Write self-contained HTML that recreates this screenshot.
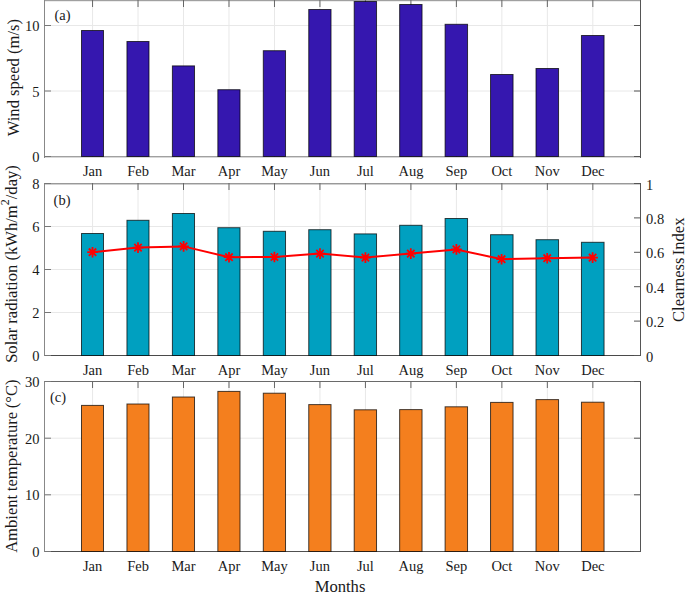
<!DOCTYPE html>
<html><head><meta charset="utf-8"><style>
html,body{margin:0;padding:0;background:#fff;overflow:hidden;width:685px;height:593px;}
svg{display:block;}
text{font-family:"Liberation Serif",serif;fill:#1a1a1a;}
.t{font-size:14.5px;}
.l{font-size:16.6px;}
</style></head><body>
<svg width="685" height="593" viewBox="0 0 685 593">

<line x1="44.5" y1="91" x2="640.5" y2="91" stroke="#e8e8e8" stroke-width="1"/>
<line x1="44.5" y1="25.5" x2="640.5" y2="25.5" stroke="#e8e8e8" stroke-width="1"/>
<line x1="92.55" y1="0.5" x2="92.55" y2="156.5" stroke="#e8e8e8" stroke-width="1"/>
<line x1="138.03" y1="0.5" x2="138.03" y2="156.5" stroke="#e8e8e8" stroke-width="1"/>
<line x1="183.51" y1="0.5" x2="183.51" y2="156.5" stroke="#e8e8e8" stroke-width="1"/>
<line x1="228.99" y1="0.5" x2="228.99" y2="156.5" stroke="#e8e8e8" stroke-width="1"/>
<line x1="274.47" y1="0.5" x2="274.47" y2="156.5" stroke="#e8e8e8" stroke-width="1"/>
<line x1="319.95" y1="0.5" x2="319.95" y2="156.5" stroke="#e8e8e8" stroke-width="1"/>
<line x1="365.43" y1="0.5" x2="365.43" y2="156.5" stroke="#e8e8e8" stroke-width="1"/>
<line x1="410.91" y1="0.5" x2="410.91" y2="156.5" stroke="#e8e8e8" stroke-width="1"/>
<line x1="456.39" y1="0.5" x2="456.39" y2="156.5" stroke="#e8e8e8" stroke-width="1"/>
<line x1="501.87" y1="0.5" x2="501.87" y2="156.5" stroke="#e8e8e8" stroke-width="1"/>
<line x1="547.35" y1="0.5" x2="547.35" y2="156.5" stroke="#e8e8e8" stroke-width="1"/>
<line x1="592.83" y1="0.5" x2="592.83" y2="156.5" stroke="#e8e8e8" stroke-width="1"/>
<rect x="44" y="0" width="597" height="1" fill="#a0a0a0"/>
<rect x="44" y="1" width="597" height="1" fill="#ececec"/>
<rect x="44" y="156" width="597" height="1" fill="#a0a0a0"/>
<rect x="44" y="157" width="597" height="1" fill="#d8d8d8"/>
<rect x="44" y="0" width="1" height="158" fill="#888888"/>
<rect x="640" y="0" width="1" height="158" fill="#555555"/>
<line x1="92.55" y1="0.0" x2="92.55" y2="7.0" stroke="#666" stroke-width="1"/>
<line x1="92.55" y1="156.5" x2="92.55" y2="150.0" stroke="#666" stroke-width="1"/>
<line x1="138.03" y1="0.0" x2="138.03" y2="7.0" stroke="#666" stroke-width="1"/>
<line x1="138.03" y1="156.5" x2="138.03" y2="150.0" stroke="#666" stroke-width="1"/>
<line x1="183.51" y1="0.0" x2="183.51" y2="7.0" stroke="#666" stroke-width="1"/>
<line x1="183.51" y1="156.5" x2="183.51" y2="150.0" stroke="#666" stroke-width="1"/>
<line x1="228.99" y1="0.0" x2="228.99" y2="7.0" stroke="#666" stroke-width="1"/>
<line x1="228.99" y1="156.5" x2="228.99" y2="150.0" stroke="#666" stroke-width="1"/>
<line x1="274.47" y1="0.0" x2="274.47" y2="7.0" stroke="#666" stroke-width="1"/>
<line x1="274.47" y1="156.5" x2="274.47" y2="150.0" stroke="#666" stroke-width="1"/>
<line x1="319.95" y1="0.0" x2="319.95" y2="7.0" stroke="#666" stroke-width="1"/>
<line x1="319.95" y1="156.5" x2="319.95" y2="150.0" stroke="#666" stroke-width="1"/>
<line x1="365.43" y1="0.0" x2="365.43" y2="7.0" stroke="#666" stroke-width="1"/>
<line x1="365.43" y1="156.5" x2="365.43" y2="150.0" stroke="#666" stroke-width="1"/>
<line x1="410.91" y1="0.0" x2="410.91" y2="7.0" stroke="#666" stroke-width="1"/>
<line x1="410.91" y1="156.5" x2="410.91" y2="150.0" stroke="#666" stroke-width="1"/>
<line x1="456.39" y1="0.0" x2="456.39" y2="7.0" stroke="#666" stroke-width="1"/>
<line x1="456.39" y1="156.5" x2="456.39" y2="150.0" stroke="#666" stroke-width="1"/>
<line x1="501.87" y1="0.0" x2="501.87" y2="7.0" stroke="#666" stroke-width="1"/>
<line x1="501.87" y1="156.5" x2="501.87" y2="150.0" stroke="#666" stroke-width="1"/>
<line x1="547.35" y1="0.0" x2="547.35" y2="7.0" stroke="#666" stroke-width="1"/>
<line x1="547.35" y1="156.5" x2="547.35" y2="150.0" stroke="#666" stroke-width="1"/>
<line x1="592.83" y1="0.0" x2="592.83" y2="7.0" stroke="#666" stroke-width="1"/>
<line x1="592.83" y1="156.5" x2="592.83" y2="150.0" stroke="#666" stroke-width="1"/>
<rect x="81.50" y="30.50" width="22.00" height="126.00" fill="#3517AF" stroke="rgba(0,0,0,0.72)" stroke-width="1"/>
<rect x="126.95" y="41.50" width="22.05" height="115.00" fill="#3517AF" stroke="rgba(0,0,0,0.72)" stroke-width="1"/>
<rect x="172.40" y="65.90" width="22.11" height="90.60" fill="#3517AF" stroke="rgba(0,0,0,0.72)" stroke-width="1"/>
<rect x="217.85" y="89.70" width="22.16" height="66.80" fill="#3517AF" stroke="rgba(0,0,0,0.72)" stroke-width="1"/>
<rect x="263.30" y="50.70" width="22.22" height="105.80" fill="#3517AF" stroke="rgba(0,0,0,0.72)" stroke-width="1"/>
<rect x="308.75" y="9.50" width="22.27" height="147.00" fill="#3517AF" stroke="rgba(0,0,0,0.72)" stroke-width="1"/>
<rect x="354.20" y="1.50" width="22.33" height="155.00" fill="#3517AF" stroke="rgba(0,0,0,0.72)" stroke-width="1"/>
<rect x="399.65" y="4.50" width="22.39" height="152.00" fill="#3517AF" stroke="rgba(0,0,0,0.72)" stroke-width="1"/>
<rect x="445.10" y="24.30" width="22.44" height="132.20" fill="#3517AF" stroke="rgba(0,0,0,0.72)" stroke-width="1"/>
<rect x="490.55" y="74.50" width="22.50" height="82.00" fill="#3517AF" stroke="rgba(0,0,0,0.72)" stroke-width="1"/>
<rect x="536.00" y="68.50" width="22.55" height="88.00" fill="#3517AF" stroke="rgba(0,0,0,0.72)" stroke-width="1"/>
<rect x="581.45" y="35.50" width="22.61" height="121.00" fill="#3517AF" stroke="rgba(0,0,0,0.72)" stroke-width="1"/>
<line x1="44.5" y1="156.5" x2="51.0" y2="156.5" stroke="#777" stroke-width="1"/>
<text class="t" x="39.5" y="162.0" text-anchor="end">0</text>
<line x1="634.0" y1="156.5" x2="640.5" y2="156.5" stroke="#555" stroke-width="1"/>
<line x1="44.5" y1="91" x2="51.0" y2="91" stroke="#777" stroke-width="1"/>
<text class="t" x="39.5" y="96.5" text-anchor="end">5</text>
<line x1="634.0" y1="91" x2="640.5" y2="91" stroke="#555" stroke-width="1"/>
<line x1="44.5" y1="25.5" x2="51.0" y2="25.5" stroke="#777" stroke-width="1"/>
<text class="t" x="39.5" y="31.0" text-anchor="end">10</text>
<line x1="634.0" y1="25.5" x2="640.5" y2="25.5" stroke="#555" stroke-width="1"/>
<text class="t" x="92.55" y="175.8" text-anchor="middle">Jan</text>
<text class="t" x="138.03" y="175.8" text-anchor="middle">Feb</text>
<text class="t" x="183.51" y="175.8" text-anchor="middle">Mar</text>
<text class="t" x="228.99" y="175.8" text-anchor="middle">Apr</text>
<text class="t" x="274.47" y="175.8" text-anchor="middle">May</text>
<text class="t" x="319.95" y="175.8" text-anchor="middle">Jun</text>
<text class="t" x="365.43" y="175.8" text-anchor="middle">Jul</text>
<text class="t" x="410.91" y="175.8" text-anchor="middle">Aug</text>
<text class="t" x="456.39" y="175.8" text-anchor="middle">Sep</text>
<text class="t" x="501.87" y="175.8" text-anchor="middle">Oct</text>
<text class="t" x="547.35" y="175.8" text-anchor="middle">Nov</text>
<text class="t" x="592.83" y="175.8" text-anchor="middle">Dec</text>
<line x1="44.5" y1="312.5" x2="640.5" y2="312.5" stroke="#e8e8e8" stroke-width="1"/>
<line x1="44.5" y1="269.5" x2="640.5" y2="269.5" stroke="#e8e8e8" stroke-width="1"/>
<line x1="44.5" y1="226.5" x2="640.5" y2="226.5" stroke="#e8e8e8" stroke-width="1"/>
<line x1="92.55" y1="183.5" x2="92.55" y2="355.5" stroke="#e8e8e8" stroke-width="1"/>
<line x1="138.03" y1="183.5" x2="138.03" y2="355.5" stroke="#e8e8e8" stroke-width="1"/>
<line x1="183.51" y1="183.5" x2="183.51" y2="355.5" stroke="#e8e8e8" stroke-width="1"/>
<line x1="228.99" y1="183.5" x2="228.99" y2="355.5" stroke="#e8e8e8" stroke-width="1"/>
<line x1="274.47" y1="183.5" x2="274.47" y2="355.5" stroke="#e8e8e8" stroke-width="1"/>
<line x1="319.95" y1="183.5" x2="319.95" y2="355.5" stroke="#e8e8e8" stroke-width="1"/>
<line x1="365.43" y1="183.5" x2="365.43" y2="355.5" stroke="#e8e8e8" stroke-width="1"/>
<line x1="410.91" y1="183.5" x2="410.91" y2="355.5" stroke="#e8e8e8" stroke-width="1"/>
<line x1="456.39" y1="183.5" x2="456.39" y2="355.5" stroke="#e8e8e8" stroke-width="1"/>
<line x1="501.87" y1="183.5" x2="501.87" y2="355.5" stroke="#e8e8e8" stroke-width="1"/>
<line x1="547.35" y1="183.5" x2="547.35" y2="355.5" stroke="#e8e8e8" stroke-width="1"/>
<line x1="592.83" y1="183.5" x2="592.83" y2="355.5" stroke="#e8e8e8" stroke-width="1"/>
<rect x="44" y="183" width="597" height="1" fill="#999999"/>
<rect x="45" y="184" width="595" height="1" fill="#d0d0d0"/>
<rect x="44" y="355" width="597" height="1" fill="#4a4a4a"/>
<rect x="44" y="183" width="1" height="173" fill="#888888"/>
<rect x="640" y="183" width="1" height="173" fill="#555555"/>
<line x1="92.55" y1="183.0" x2="92.55" y2="190.0" stroke="#666" stroke-width="1"/>
<line x1="92.55" y1="355.5" x2="92.55" y2="349.0" stroke="#666" stroke-width="1"/>
<line x1="138.03" y1="183.0" x2="138.03" y2="190.0" stroke="#666" stroke-width="1"/>
<line x1="138.03" y1="355.5" x2="138.03" y2="349.0" stroke="#666" stroke-width="1"/>
<line x1="183.51" y1="183.0" x2="183.51" y2="190.0" stroke="#666" stroke-width="1"/>
<line x1="183.51" y1="355.5" x2="183.51" y2="349.0" stroke="#666" stroke-width="1"/>
<line x1="228.99" y1="183.0" x2="228.99" y2="190.0" stroke="#666" stroke-width="1"/>
<line x1="228.99" y1="355.5" x2="228.99" y2="349.0" stroke="#666" stroke-width="1"/>
<line x1="274.47" y1="183.0" x2="274.47" y2="190.0" stroke="#666" stroke-width="1"/>
<line x1="274.47" y1="355.5" x2="274.47" y2="349.0" stroke="#666" stroke-width="1"/>
<line x1="319.95" y1="183.0" x2="319.95" y2="190.0" stroke="#666" stroke-width="1"/>
<line x1="319.95" y1="355.5" x2="319.95" y2="349.0" stroke="#666" stroke-width="1"/>
<line x1="365.43" y1="183.0" x2="365.43" y2="190.0" stroke="#666" stroke-width="1"/>
<line x1="365.43" y1="355.5" x2="365.43" y2="349.0" stroke="#666" stroke-width="1"/>
<line x1="410.91" y1="183.0" x2="410.91" y2="190.0" stroke="#666" stroke-width="1"/>
<line x1="410.91" y1="355.5" x2="410.91" y2="349.0" stroke="#666" stroke-width="1"/>
<line x1="456.39" y1="183.0" x2="456.39" y2="190.0" stroke="#666" stroke-width="1"/>
<line x1="456.39" y1="355.5" x2="456.39" y2="349.0" stroke="#666" stroke-width="1"/>
<line x1="501.87" y1="183.0" x2="501.87" y2="190.0" stroke="#666" stroke-width="1"/>
<line x1="501.87" y1="355.5" x2="501.87" y2="349.0" stroke="#666" stroke-width="1"/>
<line x1="547.35" y1="183.0" x2="547.35" y2="190.0" stroke="#666" stroke-width="1"/>
<line x1="547.35" y1="355.5" x2="547.35" y2="349.0" stroke="#666" stroke-width="1"/>
<line x1="592.83" y1="183.0" x2="592.83" y2="190.0" stroke="#666" stroke-width="1"/>
<line x1="592.83" y1="355.5" x2="592.83" y2="349.0" stroke="#666" stroke-width="1"/>
<rect x="81.50" y="233.50" width="22.00" height="122.00" fill="#00A0C0" stroke="rgba(0,0,0,0.72)" stroke-width="1"/>
<rect x="126.95" y="220.30" width="22.05" height="135.20" fill="#00A0C0" stroke="rgba(0,0,0,0.72)" stroke-width="1"/>
<rect x="172.40" y="213.50" width="22.11" height="142.00" fill="#00A0C0" stroke="rgba(0,0,0,0.72)" stroke-width="1"/>
<rect x="217.85" y="227.70" width="22.16" height="127.80" fill="#00A0C0" stroke="rgba(0,0,0,0.72)" stroke-width="1"/>
<rect x="263.30" y="231.30" width="22.22" height="124.20" fill="#00A0C0" stroke="rgba(0,0,0,0.72)" stroke-width="1"/>
<rect x="308.75" y="229.70" width="22.27" height="125.80" fill="#00A0C0" stroke="rgba(0,0,0,0.72)" stroke-width="1"/>
<rect x="354.20" y="233.90" width="22.33" height="121.60" fill="#00A0C0" stroke="rgba(0,0,0,0.72)" stroke-width="1"/>
<rect x="399.65" y="225.30" width="22.39" height="130.20" fill="#00A0C0" stroke="rgba(0,0,0,0.72)" stroke-width="1"/>
<rect x="445.10" y="218.50" width="22.44" height="137.00" fill="#00A0C0" stroke="rgba(0,0,0,0.72)" stroke-width="1"/>
<rect x="490.55" y="234.70" width="22.50" height="120.80" fill="#00A0C0" stroke="rgba(0,0,0,0.72)" stroke-width="1"/>
<rect x="536.00" y="239.70" width="22.55" height="115.80" fill="#00A0C0" stroke="rgba(0,0,0,0.72)" stroke-width="1"/>
<rect x="581.45" y="242.30" width="22.61" height="113.20" fill="#00A0C0" stroke="rgba(0,0,0,0.72)" stroke-width="1"/>
<line x1="44.5" y1="355.5" x2="51.0" y2="355.5" stroke="#777" stroke-width="1"/>
<text class="t" x="39.5" y="361.0" text-anchor="end">0</text>
<line x1="44.5" y1="312.5" x2="51.0" y2="312.5" stroke="#777" stroke-width="1"/>
<text class="t" x="39.5" y="318.0" text-anchor="end">2</text>
<line x1="44.5" y1="269.5" x2="51.0" y2="269.5" stroke="#777" stroke-width="1"/>
<text class="t" x="39.5" y="275.0" text-anchor="end">4</text>
<line x1="44.5" y1="226.5" x2="51.0" y2="226.5" stroke="#777" stroke-width="1"/>
<text class="t" x="39.5" y="232.0" text-anchor="end">6</text>
<line x1="44.5" y1="183.5" x2="51.0" y2="183.5" stroke="#777" stroke-width="1"/>
<text class="t" x="39.5" y="189.0" text-anchor="end">8</text>
<text class="t" x="92.55" y="374.8" text-anchor="middle">Jan</text>
<text class="t" x="138.03" y="374.8" text-anchor="middle">Feb</text>
<text class="t" x="183.51" y="374.8" text-anchor="middle">Mar</text>
<text class="t" x="228.99" y="374.8" text-anchor="middle">Apr</text>
<text class="t" x="274.47" y="374.8" text-anchor="middle">May</text>
<text class="t" x="319.95" y="374.8" text-anchor="middle">Jun</text>
<text class="t" x="365.43" y="374.8" text-anchor="middle">Jul</text>
<text class="t" x="410.91" y="374.8" text-anchor="middle">Aug</text>
<text class="t" x="456.39" y="374.8" text-anchor="middle">Sep</text>
<text class="t" x="501.87" y="374.8" text-anchor="middle">Oct</text>
<text class="t" x="547.35" y="374.8" text-anchor="middle">Nov</text>
<text class="t" x="592.83" y="374.8" text-anchor="middle">Dec</text>
<line x1="44.5" y1="494.8" x2="640.5" y2="494.8" stroke="#e8e8e8" stroke-width="1"/>
<line x1="44.5" y1="438.2" x2="640.5" y2="438.2" stroke="#e8e8e8" stroke-width="1"/>
<line x1="92.55" y1="381.5" x2="92.55" y2="551.5" stroke="#e8e8e8" stroke-width="1"/>
<line x1="138.03" y1="381.5" x2="138.03" y2="551.5" stroke="#e8e8e8" stroke-width="1"/>
<line x1="183.51" y1="381.5" x2="183.51" y2="551.5" stroke="#e8e8e8" stroke-width="1"/>
<line x1="228.99" y1="381.5" x2="228.99" y2="551.5" stroke="#e8e8e8" stroke-width="1"/>
<line x1="274.47" y1="381.5" x2="274.47" y2="551.5" stroke="#e8e8e8" stroke-width="1"/>
<line x1="319.95" y1="381.5" x2="319.95" y2="551.5" stroke="#e8e8e8" stroke-width="1"/>
<line x1="365.43" y1="381.5" x2="365.43" y2="551.5" stroke="#e8e8e8" stroke-width="1"/>
<line x1="410.91" y1="381.5" x2="410.91" y2="551.5" stroke="#e8e8e8" stroke-width="1"/>
<line x1="456.39" y1="381.5" x2="456.39" y2="551.5" stroke="#e8e8e8" stroke-width="1"/>
<line x1="501.87" y1="381.5" x2="501.87" y2="551.5" stroke="#e8e8e8" stroke-width="1"/>
<line x1="547.35" y1="381.5" x2="547.35" y2="551.5" stroke="#e8e8e8" stroke-width="1"/>
<line x1="592.83" y1="381.5" x2="592.83" y2="551.5" stroke="#e8e8e8" stroke-width="1"/>
<rect x="44" y="381" width="597" height="1" fill="#6a6a6a"/>
<rect x="44" y="551" width="597" height="1" fill="#505050"/>
<rect x="44" y="381" width="1" height="171" fill="#888888"/>
<rect x="640" y="381" width="1" height="171" fill="#555555"/>
<line x1="92.55" y1="381.0" x2="92.55" y2="388.0" stroke="#666" stroke-width="1"/>
<line x1="92.55" y1="551.5" x2="92.55" y2="545.0" stroke="#666" stroke-width="1"/>
<line x1="138.03" y1="381.0" x2="138.03" y2="388.0" stroke="#666" stroke-width="1"/>
<line x1="138.03" y1="551.5" x2="138.03" y2="545.0" stroke="#666" stroke-width="1"/>
<line x1="183.51" y1="381.0" x2="183.51" y2="388.0" stroke="#666" stroke-width="1"/>
<line x1="183.51" y1="551.5" x2="183.51" y2="545.0" stroke="#666" stroke-width="1"/>
<line x1="228.99" y1="381.0" x2="228.99" y2="388.0" stroke="#666" stroke-width="1"/>
<line x1="228.99" y1="551.5" x2="228.99" y2="545.0" stroke="#666" stroke-width="1"/>
<line x1="274.47" y1="381.0" x2="274.47" y2="388.0" stroke="#666" stroke-width="1"/>
<line x1="274.47" y1="551.5" x2="274.47" y2="545.0" stroke="#666" stroke-width="1"/>
<line x1="319.95" y1="381.0" x2="319.95" y2="388.0" stroke="#666" stroke-width="1"/>
<line x1="319.95" y1="551.5" x2="319.95" y2="545.0" stroke="#666" stroke-width="1"/>
<line x1="365.43" y1="381.0" x2="365.43" y2="388.0" stroke="#666" stroke-width="1"/>
<line x1="365.43" y1="551.5" x2="365.43" y2="545.0" stroke="#666" stroke-width="1"/>
<line x1="410.91" y1="381.0" x2="410.91" y2="388.0" stroke="#666" stroke-width="1"/>
<line x1="410.91" y1="551.5" x2="410.91" y2="545.0" stroke="#666" stroke-width="1"/>
<line x1="456.39" y1="381.0" x2="456.39" y2="388.0" stroke="#666" stroke-width="1"/>
<line x1="456.39" y1="551.5" x2="456.39" y2="545.0" stroke="#666" stroke-width="1"/>
<line x1="501.87" y1="381.0" x2="501.87" y2="388.0" stroke="#666" stroke-width="1"/>
<line x1="501.87" y1="551.5" x2="501.87" y2="545.0" stroke="#666" stroke-width="1"/>
<line x1="547.35" y1="381.0" x2="547.35" y2="388.0" stroke="#666" stroke-width="1"/>
<line x1="547.35" y1="551.5" x2="547.35" y2="545.0" stroke="#666" stroke-width="1"/>
<line x1="592.83" y1="381.0" x2="592.83" y2="388.0" stroke="#666" stroke-width="1"/>
<line x1="592.83" y1="551.5" x2="592.83" y2="545.0" stroke="#666" stroke-width="1"/>
<rect x="81.50" y="405.40" width="22.00" height="146.10" fill="#F47F1E" stroke="rgba(0,0,0,0.72)" stroke-width="1"/>
<rect x="126.95" y="404.00" width="22.05" height="147.50" fill="#F47F1E" stroke="rgba(0,0,0,0.72)" stroke-width="1"/>
<rect x="172.40" y="397.00" width="22.11" height="154.50" fill="#F47F1E" stroke="rgba(0,0,0,0.72)" stroke-width="1"/>
<rect x="217.85" y="391.40" width="22.16" height="160.10" fill="#F47F1E" stroke="rgba(0,0,0,0.72)" stroke-width="1"/>
<rect x="263.30" y="393.20" width="22.22" height="158.30" fill="#F47F1E" stroke="rgba(0,0,0,0.72)" stroke-width="1"/>
<rect x="308.75" y="404.60" width="22.27" height="146.90" fill="#F47F1E" stroke="rgba(0,0,0,0.72)" stroke-width="1"/>
<rect x="354.20" y="409.80" width="22.33" height="141.70" fill="#F47F1E" stroke="rgba(0,0,0,0.72)" stroke-width="1"/>
<rect x="399.65" y="409.60" width="22.39" height="141.90" fill="#F47F1E" stroke="rgba(0,0,0,0.72)" stroke-width="1"/>
<rect x="445.10" y="406.80" width="22.44" height="144.70" fill="#F47F1E" stroke="rgba(0,0,0,0.72)" stroke-width="1"/>
<rect x="490.55" y="402.40" width="22.50" height="149.10" fill="#F47F1E" stroke="rgba(0,0,0,0.72)" stroke-width="1"/>
<rect x="536.00" y="399.60" width="22.55" height="151.90" fill="#F47F1E" stroke="rgba(0,0,0,0.72)" stroke-width="1"/>
<rect x="581.45" y="402.20" width="22.61" height="149.30" fill="#F47F1E" stroke="rgba(0,0,0,0.72)" stroke-width="1"/>
<line x1="44.5" y1="551.5" x2="51.0" y2="551.5" stroke="#777" stroke-width="1"/>
<text class="t" x="39.5" y="557.0" text-anchor="end">0</text>
<line x1="634.0" y1="551.5" x2="640.5" y2="551.5" stroke="#555" stroke-width="1"/>
<line x1="44.5" y1="494.8" x2="51.0" y2="494.8" stroke="#777" stroke-width="1"/>
<text class="t" x="39.5" y="500.3" text-anchor="end">10</text>
<line x1="634.0" y1="494.8" x2="640.5" y2="494.8" stroke="#555" stroke-width="1"/>
<line x1="44.5" y1="438.2" x2="51.0" y2="438.2" stroke="#777" stroke-width="1"/>
<text class="t" x="39.5" y="443.7" text-anchor="end">20</text>
<line x1="634.0" y1="438.2" x2="640.5" y2="438.2" stroke="#555" stroke-width="1"/>
<line x1="44.5" y1="381.5" x2="51.0" y2="381.5" stroke="#777" stroke-width="1"/>
<text class="t" x="39.5" y="387.0" text-anchor="end">30</text>
<line x1="634.0" y1="381.5" x2="640.5" y2="381.5" stroke="#555" stroke-width="1"/>
<text class="t" x="92.55" y="570.8" text-anchor="middle">Jan</text>
<text class="t" x="138.03" y="570.8" text-anchor="middle">Feb</text>
<text class="t" x="183.51" y="570.8" text-anchor="middle">Mar</text>
<text class="t" x="228.99" y="570.8" text-anchor="middle">Apr</text>
<text class="t" x="274.47" y="570.8" text-anchor="middle">May</text>
<text class="t" x="319.95" y="570.8" text-anchor="middle">Jun</text>
<text class="t" x="365.43" y="570.8" text-anchor="middle">Jul</text>
<text class="t" x="410.91" y="570.8" text-anchor="middle">Aug</text>
<text class="t" x="456.39" y="570.8" text-anchor="middle">Sep</text>
<text class="t" x="501.87" y="570.8" text-anchor="middle">Oct</text>
<text class="t" x="547.35" y="570.8" text-anchor="middle">Nov</text>
<text class="t" x="592.83" y="570.8" text-anchor="middle">Dec</text>
<line x1="634.0" y1="355.5" x2="640.5" y2="355.5" stroke="#555" stroke-width="1"/>
<text class="t" x="646" y="361.5">0</text>
<line x1="634.0" y1="321.1" x2="640.5" y2="321.1" stroke="#555" stroke-width="1"/>
<text class="t" x="646" y="327.1">0.2</text>
<line x1="634.0" y1="286.7" x2="640.5" y2="286.7" stroke="#555" stroke-width="1"/>
<text class="t" x="646" y="292.7">0.4</text>
<line x1="634.0" y1="252.3" x2="640.5" y2="252.3" stroke="#555" stroke-width="1"/>
<text class="t" x="646" y="258.3">0.6</text>
<line x1="634.0" y1="217.9" x2="640.5" y2="217.9" stroke="#555" stroke-width="1"/>
<text class="t" x="646" y="223.9">0.8</text>
<line x1="634.0" y1="183.5" x2="640.5" y2="183.5" stroke="#555" stroke-width="1"/>
<text class="t" x="646" y="189.5">1</text>
<polyline points="92.5,252.2 138,247.6 183.6,246.4 229,257.2 274.4,257 320,253.6 365.4,257.6 410.8,253.6 456.4,249.4 501.6,259.2 547.2,258.2 592.6,257.6" fill="none" stroke="#ff0000" stroke-width="2"/>
<path d="M87.2,252.2H97.8M92.5,246.89999999999998V257.5M88.8,248.5L96.2,255.89999999999998M88.8,255.89999999999998L96.2,248.5" stroke="#ff0000" stroke-width="1.8" fill="none"/>
<path d="M132.7,247.6H143.3M138,242.29999999999998V252.9M134.3,243.9L141.7,251.29999999999998M134.3,251.29999999999998L141.7,243.9" stroke="#ff0000" stroke-width="1.8" fill="none"/>
<path d="M178.29999999999998,246.4H188.9M183.6,241.1V251.70000000000002M179.9,242.70000000000002L187.29999999999998,250.1M179.9,250.1L187.29999999999998,242.70000000000002" stroke="#ff0000" stroke-width="1.8" fill="none"/>
<path d="M223.7,257.2H234.3M229,251.89999999999998V262.5M225.3,253.5L232.7,260.9M225.3,260.9L232.7,253.5" stroke="#ff0000" stroke-width="1.8" fill="none"/>
<path d="M269.09999999999997,257H279.7M274.4,251.7V262.3M270.7,253.3L278.09999999999997,260.7M270.7,260.7L278.09999999999997,253.3" stroke="#ff0000" stroke-width="1.8" fill="none"/>
<path d="M314.7,253.6H325.3M320,248.29999999999998V258.9M316.3,249.9L323.7,257.3M316.3,257.3L323.7,249.9" stroke="#ff0000" stroke-width="1.8" fill="none"/>
<path d="M360.09999999999997,257.6H370.7M365.4,252.3V262.90000000000003M361.7,253.90000000000003L369.09999999999997,261.3M361.7,261.3L369.09999999999997,253.90000000000003" stroke="#ff0000" stroke-width="1.8" fill="none"/>
<path d="M405.5,253.6H416.1M410.8,248.29999999999998V258.9M407.1,249.9L414.5,257.3M407.1,257.3L414.5,249.9" stroke="#ff0000" stroke-width="1.8" fill="none"/>
<path d="M451.09999999999997,249.4H461.7M456.4,244.1V254.70000000000002M452.7,245.70000000000002L460.09999999999997,253.1M452.7,253.1L460.09999999999997,245.70000000000002" stroke="#ff0000" stroke-width="1.8" fill="none"/>
<path d="M496.3,259.2H506.90000000000003M501.6,253.89999999999998V264.5M497.90000000000003,255.5L505.3,262.9M497.90000000000003,262.9L505.3,255.5" stroke="#ff0000" stroke-width="1.8" fill="none"/>
<path d="M541.9000000000001,258.2H552.5M547.2,252.89999999999998V263.5M543.5,254.5L550.9000000000001,261.9M543.5,261.9L550.9000000000001,254.5" stroke="#ff0000" stroke-width="1.8" fill="none"/>
<path d="M587.3000000000001,257.6H597.9M592.6,252.3V262.90000000000003M588.9,253.90000000000003L596.3000000000001,261.3M588.9,261.3L596.3000000000001,253.90000000000003" stroke="#ff0000" stroke-width="1.8" fill="none"/>
<text class="t" x="54.5" y="19.8">(a)</text>
<text class="t" x="53.6" y="205">(b)</text>
<text class="t" x="50" y="402">(c)</text>
<text class="l" transform="translate(19,77.6) rotate(-90)" text-anchor="middle">Wind speed (m/s)</text>
<text class="l" transform="translate(17,264) rotate(-90)" text-anchor="middle">Solar radiation (kWh/m<tspan font-size="12" dy="-7.9">2</tspan><tspan dy="7.9">/day)</tspan></text>
<text class="l" transform="translate(17.3,466.2) rotate(-90)" text-anchor="middle" word-spacing="-0.5">Ambient temperature (°C)</text>
<text class="l" transform="translate(684.3,269.8) rotate(-90)" text-anchor="middle" word-spacing="-2">Clearness Index</text>
<text class="l" x="340" y="591.5" text-anchor="middle">Months</text>
</svg></body></html>
